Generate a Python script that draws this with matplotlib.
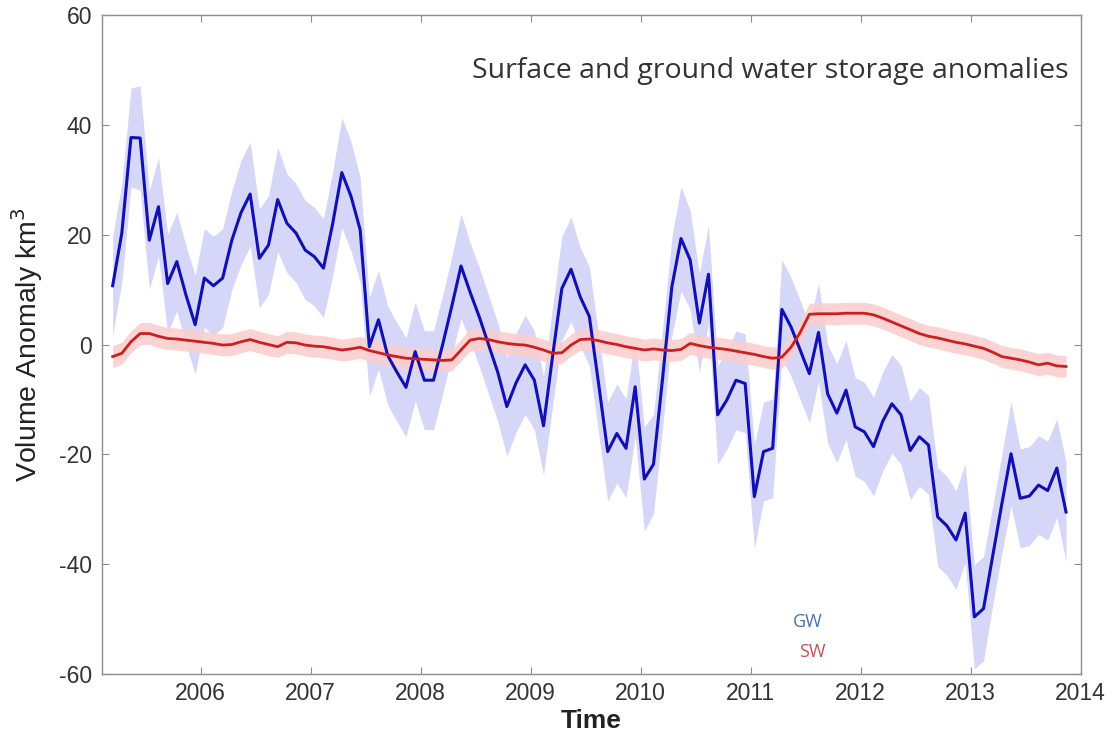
import numpy as np
import matplotlib
matplotlib.use("Agg")
import matplotlib.pyplot as plt

# Monthly time axis (decimal years)
start_year = 2005.2
gw = [10.7, 20.3, 37.7, 37.6, 19.0, 25.1, 11.1, 15.1, 9.0, 3.6,
      12.1, 10.7, 12.1, 19.0, 24.0, 27.4, 15.7, 18.1, 26.4, 22.1,
      20.3, 17.2, 16.0, 13.9, 22.0, 31.3, 27.0, 20.9, -0.4, 4.5,
      -2.0, -5.0, -7.8, -1.3, -6.5, -6.5, 0.0, 7.0, 14.3, 9.5,
      5.0, 0.0, -5.0, -11.3, -7.0, -3.7, -6.5, -14.8, -2.0, 10.2,
      13.7, 8.7, 5.1, -7.0, -19.5, -16.2, -18.9, -7.7, -24.5, -21.8,
      -6.0, 10.5, 19.3, 15.4, 3.9, 12.8, -12.8, -10.1, -6.5, -7.1,
      -27.7, -19.5, -18.9, 6.4, 3.2, -1.0, -5.3, 2.2, -9.0, -12.5,
      -8.3, -15.0, -15.9, -18.6, -14.0, -10.8, -12.8, -19.3, -16.8, -18.3,
      -31.4, -33.0, -35.6, -30.7, -49.6, -48.1, -38.5, -29.0, -19.9, -28.0,
      -27.6, -25.6, -26.6, -22.5, -30.5]
gw_unc = [9.0, 9.0, 9.0, 9.5, 9.0, 9.0, 9.0, 9.0, 9.0, 9.0,
          9.0, 9.0, 9.0, 9.0, 9.5, 9.5, 9.0, 9.0, 9.5, 9.0,
          9.0, 9.0, 9.0, 9.0, 9.5, 10.0, 10.0, 9.5, 9.0, 9.0,
          9.0, 9.0, 9.0, 9.0, 9.0, 9.0, 9.0, 9.0, 9.5, 9.0,
          9.0, 9.0, 9.0, 9.0, 9.0, 9.0, 9.0, 9.0, 9.0, 9.5,
          9.5, 9.0, 9.0, 9.0, 9.0, 9.0, 9.0, 9.0, 9.5, 9.0,
          9.0, 9.0, 9.5, 9.0, 9.0, 9.0, 9.0, 9.0, 9.0, 9.0,
          9.5, 9.0, 9.0, 9.0, 9.0, 9.0, 9.0, 9.0, 9.0, 9.0,
          9.0, 9.0, 9.0, 9.0, 9.0, 9.0, 9.0, 9.0, 9.0, 9.0,
          9.0, 9.0, 9.0, 9.0, 9.5, 9.5, 9.0, 9.0, 9.5, 9.0,
          9.0, 9.0, 9.0, 9.0, 9.0]
sw = [-2.2, -1.6, 0.5, 2.0, 2.0, 1.5, 1.1, 1.0, 0.8, 0.6,
      0.4, 0.2, -0.1, 0.0, 0.5, 0.9, 0.4, 0.0, -0.4, 0.4,
      0.3, -0.1, -0.3, -0.4, -0.7, -1.0, -0.8, -0.5, -1.1, -1.5,
      -1.9, -2.2, -2.5, -2.6, -2.7, -2.8, -2.9, -2.8, -1.0, 0.8,
      1.1, 0.9, 0.5, 0.2, 0.0, -0.1, -0.5, -1.0, -1.6, -1.5,
      -0.1, 0.9, 1.0, 0.7, 0.3, 0.0, -0.4, -0.7, -1.0, -0.8,
      -1.0, -1.1, -0.9, 0.2, -0.2, -0.5, -0.7, -0.9, -1.2, -1.5,
      -1.8, -2.2, -2.5, -2.3, -0.5, 2.2, 5.5, 5.6, 5.6, 5.6,
      5.7, 5.7, 5.7, 5.4, 4.8, 4.1, 3.4, 2.7, 2.0, 1.5,
      1.2, 0.8, 0.4, 0.1, -0.3, -0.7, -1.4, -2.2, -2.5, -2.8,
      -3.2, -3.7, -3.4, -3.9, -4.0]
sw_unc = [2.0] * len(sw)

x_ticks = [2006, 2007, 2008, 2009, 2010, 2011, 2012, 2013, 2014]
y_ticks = [-60, -40, -20, 0, 20, 40, 60]

t = start_year + np.arange(len(gw)) / 12.0
gw = np.array(gw); gw_unc = np.array(gw_unc)
sw = np.array(sw); sw_unc = np.array(sw_unc)

fig = plt.figure(figsize=(11.17, 7.33), dpi=100)
ax = fig.add_axes([0.091, 0.0805, 0.8765, 0.899])

ax.fill_between(t, gw - gw_unc, gw + gw_unc, color="#d6d6f8", lw=0, zorder=1)
ax.fill_between(t, sw - sw_unc, sw + sw_unc, color="#fbcfcf", lw=0, zorder=2, alpha=0.9)
ax.plot(t, gw, color="#1010b4", lw=2.2, zorder=3)
ax.plot(t, sw, color="#cc1f1f", lw=2.0, zorder=4)

ax.set_xlim(2005.1, 2014)
ax.set_ylim(-60, 60)
ax.set_xticks(x_ticks)
ax.set_xticklabels([str(v) for v in x_ticks])
ax.set_yticks(y_ticks)
ax.set_yticklabels([str(v) for v in y_ticks])

for s in ax.spines.values():
    s.set_color("#8e8e8e")
    s.set_linewidth(1.0)
ax.tick_params(direction="in", top=True, right=True, length=5, width=0.8,
               color="#8e8e8e", labelsize=16.5, labelcolor="#333333")
ax.tick_params(axis="x", pad=6)
ax.tick_params(axis="y", pad=7)
for lab in ax.get_xticklabels() + ax.get_yticklabels():
    lab.set_family(["Liberation Sans", "DejaVu Sans"])

ax.set_xlabel("Time", fontsize=19, family=["Liberation Sans", "DejaVu Sans"],
              fontweight="bold", color="#222222", labelpad=3)
ax.set_ylabel("Volume Anomaly km$^3$", fontsize=20.5,
              family=["Liberation Sans", "DejaVu Sans"], color="#222222", labelpad=10)

ax.text(0.988, 0.915, "Surface and ground water storage anomalies",
        transform=ax.transAxes, ha="right", va="center", fontsize=20.5,
        family=["Open Sans", "DejaVu Sans"], color="#333333")
ax.text(2011.52, -50.6, "GW", ha="center", va="center", fontsize=13,
        family=["Open Sans", "DejaVu Sans"], color="#4a70b0")
ax.text(2011.56, -56.0, "SW", ha="center", va="center", fontsize=13,
        family=["Open Sans", "DejaVu Sans"], color="#c85050")

fig.savefig("out.png", dpi=100)
